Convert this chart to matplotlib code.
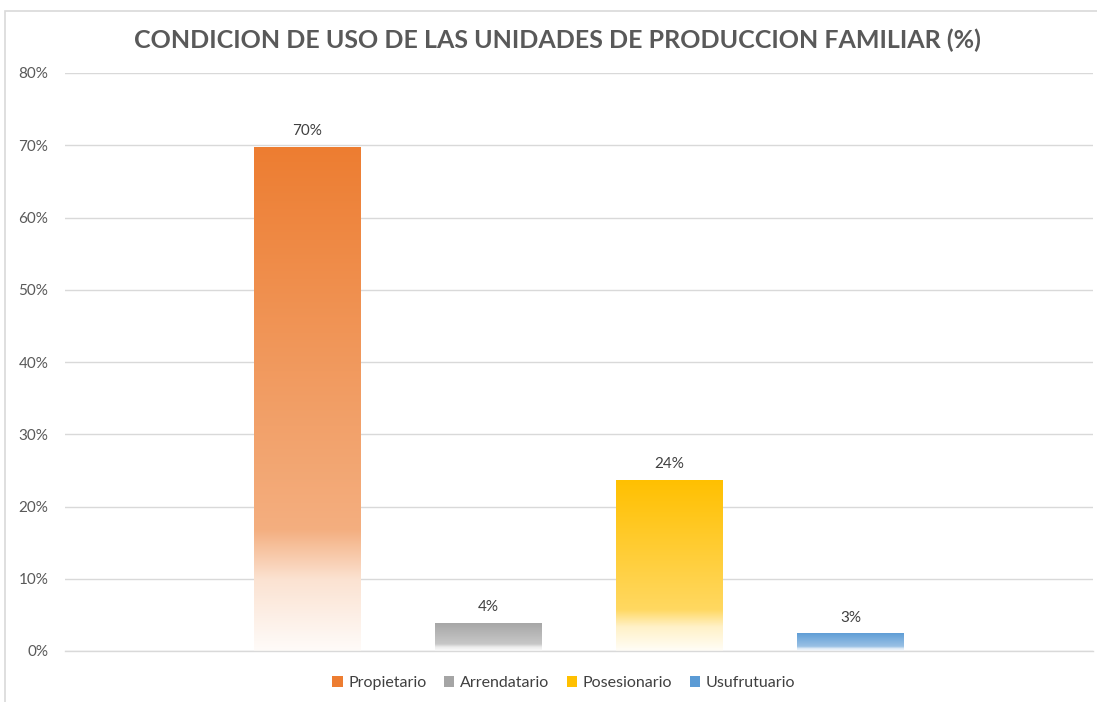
import numpy as np
import matplotlib
matplotlib.use("Agg")
import matplotlib.pyplot as plt
from matplotlib.colors import to_rgb
from matplotlib.patches import Patch, Rectangle

plt.rcParams['font.family'] = ['Lato', 'DejaVu Sans']

# ---- data ----
categories = ["Propietario", "Arrendatario", "Posesionario", "Usufrutuario"]
values = [0.698, 0.039, 0.237, 0.025]
labels = ["70%", "4%", "24%", "3%"]
colors = ["#ED7D31", "#A5A5A5", "#FFC000", "#5B9BD5"]
yticks = [0, 0.1, 0.2, 0.3, 0.4, 0.5, 0.6, 0.7, 0.8]
ytick_labels = ["0%", "10%", "20%", "30%", "40%", "50%", "60%", "70%", "80%"]
title = "CONDICION DE USO DE LAS UNIDADES DE PRODUCCION FAMILIAR (%)"

fig = plt.figure(figsize=(10.97, 7.02), dpi=100)
# chart frame
frame = Rectangle((5/1097, -0.05), 1.2, 1 - 11/702 + 0.05,
                  transform=fig.transFigure, facecolor="none",
                  edgecolor="#D9D9D9", lw=1.2, zorder=-1)
fig.patches.append(frame)

ax = fig.add_axes([65/1097, 1 - 651/702, (1093 - 65)/1097, (651 - 73)/702])
ax.set_facecolor("none")

x = np.arange(len(categories))
width = 0.59

def gradient_rgba(color, n=256):
    c = np.array(to_rgb(color))
    t = np.linspace(0, 1, n)  # 0 = top, 1 = bottom
    mix = np.interp(t, [0, 0.76, 0.86, 1.0], [0.0, 0.38, 0.78, 0.97])
    rgb = c[None, :] * (1 - mix[:, None]) + mix[:, None]
    return rgb[:, None, :]

bars = ax.bar(x, values, width=width, color="none", edgecolor="none", zorder=2)
for b, col, v, lab in zip(bars, colors, values, labels):
    x0 = b.get_x()
    img = gradient_rgba(col)
    im = ax.imshow(img, extent=[x0, x0 + width, 0, v], aspect="auto",
                   origin="upper", zorder=2, interpolation="bilinear")
    im.set_clip_path(b)
    ax.annotate(lab, (b.get_x() + width / 2, v), xytext=(0, 6),
                textcoords="offset points", ha="center", va="bottom",
                fontsize=11, color="#404040")

ax.set_xlim(1.5 - 2.84, 1.5 + 2.84)
ax.set_ylim(0, 0.8)
ax.set_yticks(yticks)
ax.set_yticklabels(ytick_labels, fontsize=11, color="#595959")
ax.set_xticks([])
ax.tick_params(axis="y", length=0, pad=12)
ax.grid(axis="y", color="#D9D9D9", lw=1)
ax.set_axisbelow(True)
for s in ["top", "right", "left"]:
    ax.spines[s].set_visible(False)
ax.spines["bottom"].set_color("#D9D9D9")
ax.spines["bottom"].set_linewidth(1)

fig.text(0.508, 1 - 40/702, title, ha="center", va="center",
         fontsize=18, fontweight="bold", color="#595959")

handles = [Patch(facecolor=c, edgecolor="none") for c in colors]
fig.legend(handles, categories, loc="center", bbox_to_anchor=(0.514, 1 - 683/702),
           ncol=4, frameon=False, fontsize=11.5, handlelength=0.65, handleheight=0.65,
           columnspacing=1.1, handletextpad=0.35, labelcolor="#404040")

fig.savefig("out.png", dpi=100)
